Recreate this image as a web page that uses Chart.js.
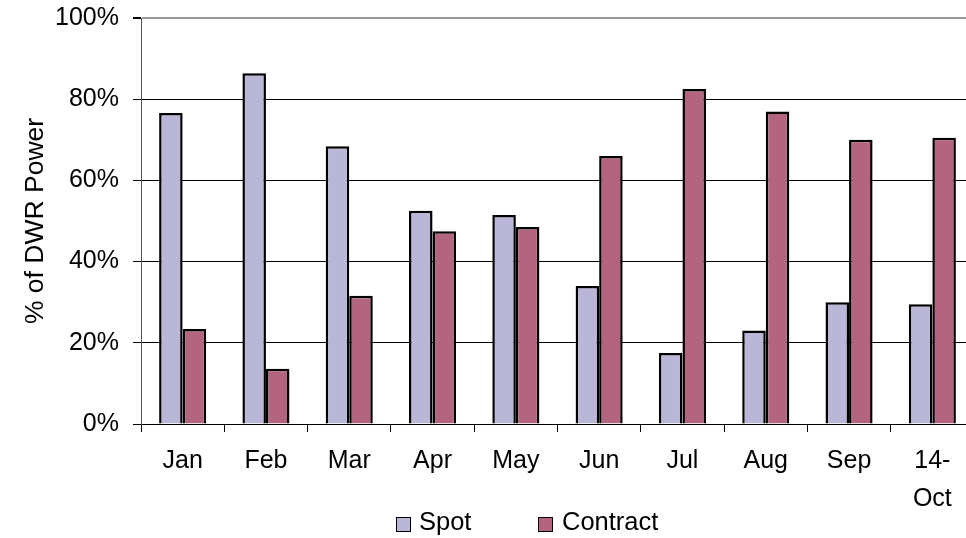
<!DOCTYPE html>
<html lang="en">
<head>
  <meta charset="UTF-8" />
  <title>DWR Power: Spot vs Contract</title>
  <script src="https://cdn.jsdelivr.net/npm/chart.js"></script>
  <style>
    html, body {
      margin: 0;
      padding: 0;
      background: #fff;
      overflow: hidden;
      width: 966px;
      height: 538px;
      font-family: "Liberation Sans", Arial, sans-serif;
    }
    .wrap {
      position: relative;
      width: 966px;
      height: 538px;
      overflow: hidden;
    }
    #chart {
      position: absolute;
      left: 0;
      top: 0;
    }
    .legend {
      position: absolute;
      top: 507px;
      left: 0;
      width: 966px;
      font-size: 25.5px;
      color: #000;
    }
    .legend span {
      position: absolute;
      top: 0;
      line-height: 28px;
    }
    .legend .box {
      top: 10px;
      width: 13px;
      height: 13px;
      border: 1px solid #000;
    }
  </style>
</head>
<body>
  <div class="wrap">
    <canvas id="chart" width="980" height="538"></canvas>
    <div class="legend">
      <span class="box" style="left:396px; background:#B9B6D8"></span>
      <span style="left:419px">Spot</span>
      <span class="box" style="left:538px; background:#B3657F"></span>
      <span style="left:562px">Contract</span>
    </div>
  </div>

  <script>
    const months = ['Jan', 'Feb', 'Mar', 'Apr', 'May', 'Jun', 'Jul', 'Aug', 'Sep', ['14-', 'Oct']];
    const spot = [76.6, 86.4, 68.4, 52.5, 51.5, 34, 17.5, 23, 30, 29.5];
    const contract = [23.4, 13.6, 31.6, 47.5, 48.5, 66, 82.5, 77, 70, 70.5];
    const yTicks = [0, 20, 40, 60, 80, 100];

    const family = '"Liberation Sans", Arial, sans-serif';
    const tickFont = { family: family, size: 25 };

    new Chart(document.getElementById('chart'), {
      type: 'bar',
      data: {
        labels: months,
        datasets: [
          {
            label: 'Spot',
            data: spot,
            backgroundColor: '#B9B6D8',
            borderColor: '#000',
            borderWidth: 2.5,
            categoryPercentage: 0.565,
            barPercentage: 1
          },
          {
            label: 'Contract',
            data: contract,
            backgroundColor: '#B3657F',
            borderColor: '#000',
            borderWidth: 2.5,
            categoryPercentage: 0.565,
            barPercentage: 1
          }
        ]
      },
      options: {
        responsive: false,
        animation: false,
        layout: { padding: { top: 18, right: 6, left: 0, bottom: 0 } },
        plugins: {
          legend: { display: false },
          tooltip: { enabled: false }
        },
        scales: {
          x: {
            afterFit: s => { s.height = 114; },
            grid: {
              offset: true,
              drawOnChartArea: false,
              tickLength: 8,
              color: '#000',
              lineWidth: 1
            },
            border: { color: '#000', width: 1 },
            ticks: {
              color: '#000',
              font: { family: family, size: 25, lineHeight: 1.52 },
              padding: 10,
              maxRotation: 0,
              autoSkip: false
            }
          },
          y: {
            min: 0,
            max: 100,
            afterFit: s => {
              s.width = 141;
              s.paddingTop = 0;
              s.paddingBottom = 0;
            },
            afterBuildTicks: s => { s.ticks = yTicks.map(v => ({ value: v })); },
            grid: {
              color: ctx => (ctx.tick && ctx.tick.value === 100 ? '#9a9a9a' : '#000'),
              lineWidth: ctx => (ctx.tick && ctx.tick.value === 100 ? 2 : 1),
              tickLength: 8,
              tickColor: '#000'
            },
            border: { color: '#555', width: 1 },
            ticks: {
              color: '#000',
              font: tickFont,
              padding: 14,
              callback: v => v + '%'
            },
            title: {
              display: true,
              text: '% of DWR Power',
              color: '#000',
              font: { family: family, size: 26.5 },
              padding: { top: 20, bottom: 0 }
            }
          }
        }
      }
    });
  </script>
</body>
</html>
